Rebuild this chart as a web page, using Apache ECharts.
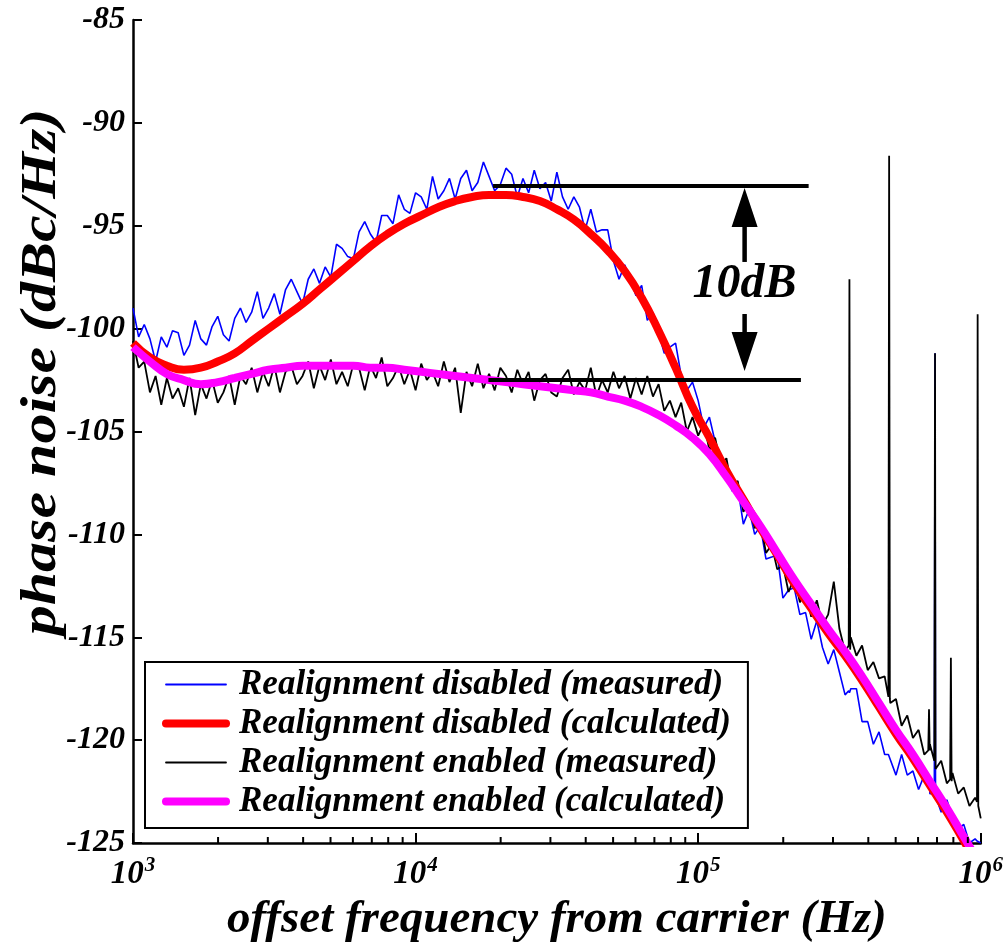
<!DOCTYPE html>
<html><head><meta charset="utf-8">
<script src="https://cdn.jsdelivr.net/npm/echarts@6/dist/echarts.min.js"></script>
<style>html,body{margin:0;padding:0;background:#fff}#c{width:1006px;height:952px}</style>
</head><body><div id="c"></div>
<script>
// ---- measured traces (offset frequency in Hz, phase noise in dBc/Hz) ----
const measFreq = [
  1000,1047,1096,1148,1202,1259,1318,1380,1445,1514,
  1585,1660,1738,1820,1905,1995,2089,2188,2291,2399,
  2512,2630,2754,2884,3020,3162,3311,3467,3631,3802,
  3981,4169,4365,4571,4786,5012,5248,5495,5754,6026,
  6310,6607,6918,7244,7586,7943,8318,8710,9120,9550,
  10000,10470,10960,11480,12020,12590,13180,13800,14450,15140,
  15850,16600,17380,18200,19050,19950,20890,21880,22910,23990,
  25120,26300,27540,28840,30200,31620,33110,34670,36310,38020,
  39810,41690,43650,45710,47860,50120,52480,54950,57540,60260,
  63100,66070,69180,72440,75860,79430,83180,87100,91200,95500,
  100000,104700,109600,114800,120200,125900,131800,138000,144500,151400,
  158500,166000,173800,182000,190500,199500,208900,218800,229100,239900,
  251200,263000,275400,288400,302000,316200,331100,
  341000,343000,345000,346700,363100,380200,398100,416900,436500,457100,
  471200,474000,476800,478600,501200,524800,549500,575400,602600,631000,
  652100,656000,659900,660700,685000,689000,691800,724400,758600,
  779300,784000,788700,794300,831800,871000,912000,955000,970000,975000,980000,1000000
];
const disabledMeasured = [
  -99.0,-100.4,-99.8,-100.5,-101.6,-100.4,-100.9,-100.1,-100.2,-101.3,
  -100.8,-99.6,-100.5,-100.8,-99.9,-99.4,-100.3,-100.6,-99.5,-99.0,
  -99.7,-99.2,-98.2,-99.5,-99.0,-98.3,-99.3,-98.1,-97.6,-98.2,
  -98.8,-97.6,-97.1,-97.8,-97.0,-97.5,-95.9,-96.1,-96.5,-96.6,
  -95.3,-94.8,-95.4,-95.8,-94.5,-94.5,-94.9,-93.5,-94.2,-94.4,
  -93.4,-93.6,-94.2,-92.6,-93.7,-93.3,-92.7,-93.7,-92.7,-92.3,
  -93.3,-92.9,-91.9,-92.6,-93.3,-93.0,-92.2,-92.5,-93.6,-92.7,
  -93.4,-92.3,-93.2,-92.9,-93.8,-92.4,-93.6,-94.2,-93.6,-94.1,
  -95.2,-94.2,-95.3,-95.2,-95.2,-96.7,-97.6,-96.9,-97.6,-98.4,
  -97.9,-99.6,-99.2,-100.2,-101.2,-100.9,-100.7,-102.3,-103.0,-102.6,
  -103.5,-104.8,-104.3,-105.5,-107.0,-106.5,-107.9,-107.7,-109.5,-108.8,
  -110.0,-109.6,-111.2,-111.1,-111.0,-113.1,-112.7,-112.6,-113.9,-113.8,
  -115.1,-114.2,-115.5,-116.3,-115.6,-116.7,-117.8,
  -117.6,-117.7,-117.6,-117.5,-117.5,-119.1,-119.1,-120.2,-119.6,-120.7,
  -120.7,-120.7,-120.7,-120.7,-121.7,-120.7,-121.7,-121.5,-122.4,-121.7,
  -122.0,-122.1,-122.2,-122.6,-122.6,-101.2,-122.7,-123.5,-122.9,
  -123.4,-123.5,-123.6,-124.0,-124.3,-124.1,-125.0,-124.8,-124.9,-124.9,-124.9,-125.0
];
const enabledMeasured = [
  -100.6,-101.9,-101.6,-103.1,-102.3,-103.7,-102.4,-103.4,-102.9,-103.8,
  -102.4,-104.2,-102.7,-103.4,-102.5,-103.6,-103.1,-102.3,-103.7,-102.3,
  -102.7,-101.9,-103.1,-102.1,-102.8,-101.8,-103.1,-102.1,-101.8,-102.7,
  -102.3,-101.6,-102.9,-101.8,-102.5,-101.5,-102.7,-102.1,-102.8,-101.7,
  -101.9,-103.0,-101.8,-102.4,-101.4,-102.8,-102.4,-101.8,-102.7,-102.0,
  -103.0,-101.7,-102.5,-102.1,-102.8,-101.6,-102.6,-101.9,-104.1,-102.1,
  -102.8,-101.7,-102.9,-102.2,-103.0,-101.9,-102.3,-103.1,-102.0,-102.7,
  -102.1,-103.5,-102.5,-102.2,-103.1,-103.3,-102.4,-102.0,-103.2,-102.6,
  -103.0,-101.9,-103.3,-102.5,-103.1,-102.1,-102.9,-102.3,-103.4,-102.4,
  -103.2,-102.3,-103.3,-102.7,-104.0,-103.5,-104.3,-103.6,-105.0,-104.3,
  -105.2,-104.6,-105.9,-105.3,-106.6,-106.3,-107.8,-107.4,-108.9,-108.5,
  -109.7,-109.4,-110.9,-110.5,-111.7,-111.5,-112.8,-112.1,-113.3,-112.8,
  -114.0,-113.2,-114.4,-113.9,-112.3,-114.6,-115.7,
  -115.4,-97.6,-115.6,-115.0,-115.9,-115.4,-116.6,-116.2,-117.0,-116.9,
  -117.9,-91.6,-118.0,-118.2,-118.0,-119.3,-118.8,-119.9,-119.5,-120.7,
  -120.5,-118.5,-120.5,-120.2,-121.0,-101.2,-121.4,-121.0,-122.1,
  -121.9,-116.0,-122.0,-121.6,-122.6,-122.3,-123.2,-122.8,-123.0,-99.3,-123.2,-123.8
];

// ---- calculated curves ----
const calcFreq = [1000,1148,1318,1514,1738,1995,2291,2630,3020,3467,3981,4571,5248,6026,6918,7943,9120,
  10470,12020,13800,15850,18200,20890,23990,27540,31620,36310,41690,47860,54950,63100,72440,83180,95500,
  109600,125900,144500,166000,190500,218800,251200,288400,331100,380200,436500,501200,575400,660700,758600,871000,1000000];
const disabledCalc = [-100.7,-101.4,-101.8,-102.0,-101.9,-101.6,-101.2,-100.6,-100.0,-99.4,-98.8,-98.1,-97.4,-96.7,-96.0,-95.4,-94.9,
  -94.5,-94.1,-93.8,-93.6,-93.5,-93.5,-93.6,-93.8,-94.2,-94.7,-95.4,-96.2,-97.2,-98.5,-100.1,-101.9,-103.8,
  -105.3,-106.9,-108.3,-109.7,-111.0,-112.4,-113.6,-114.8,-115.9,-117.1,-118.4,-119.7,-120.9,-122.2,-123.5,-124.9,-126.3];
const enabledCalc = [-100.9,-101.6,-102.2,-102.5,-102.7,-102.6,-102.4,-102.2,-102.0,-101.9,-101.8,-101.8,-101.8,-101.8,-101.9,-101.9,-102.0,
  -102.1,-102.2,-102.3,-102.4,-102.5,-102.6,-102.7,-102.8,-102.9,-103.0,-103.1,-103.3,-103.5,-103.8,-104.2,-104.7,-105.3,
  -106.1,-107.2,-108.4,-109.6,-110.9,-112.2,-113.4,-114.6,-115.7,-116.9,-118.2,-119.5,-120.7,-122.0,-123.3,-124.7,-126.1];

// ---- axes / annotation values ----
const xMinorTicks = [2000,3000,4000,5000,6000,7000,8000,9000,20000,30000,40000,50000,60000,70000,80000,90000,
  200000,300000,400000,500000,600000,700000,800000,900000];
const seriesNames = ['Realignment disabled (measured)','Realignment disabled (calculated)',
  'Realignment enabled (measured)','Realignment enabled (calculated)'];
const refLines = [[18800,246000,-93.07],[18100,231000,-102.5]]; // [from Hz, to Hz, level dB]
const arrowFreq = 146000;
const arrowUp = [-96.76,-93.17];     // [shaft start, tip]
const arrowDown = [-99.29,-102.06];  // [shaft start, tip]
const deltaLabel = ['10dB', -97.85];
const yTitle = 'phase noise (dBc/Hz)';
const xTitle = 'offset frequency from carrier (Hz)';

const FONT = '"Liberation Serif","Times New Roman",serif';
const pair = (xs, ys) => xs.map((x, i) => [x, ys[i]]);

const chart = echarts.init(document.getElementById('c'), null, {renderer: 'canvas'});

function renderAnnot(params, api) {
  const ch = [];
  refLines.forEach(r => {
    const a = api.coord([r[0], r[2]]), b = api.coord([r[1], r[2]]);
    ch.push({type: 'line', shape: {x1: a[0], y1: a[1], x2: b[0], y2: b[1]}, style: {stroke: '#000', lineWidth: 4}});
  });
  const arrow = (seg) => {
    const p0 = api.coord([arrowFreq, seg[0]]), p1 = api.coord([arrowFreq, seg[1]]);
    const dir = Math.sign(p1[1] - p0[1]);
    const headLen = 39, headW = 13;
    const base = p1[1] - dir * headLen;
    ch.push({type: 'line', shape: {x1: p0[0], y1: p0[1], x2: p0[0], y2: base + dir * 2}, style: {stroke: '#000', lineWidth: 4.5}});
    ch.push({type: 'polygon', shape: {points: [[p1[0], p1[1]], [p1[0] - headW, base], [p1[0] + headW, base]]}, style: {fill: '#000'}});
  };
  arrow(arrowUp);
  arrow(arrowDown);
  const t = api.coord([arrowFreq, deltaLabel[1]]);
  ch.push({type: 'text', x: t[0], y: t[1], style: {text: deltaLabel[0], fill: '#000', align: 'center', verticalAlign: 'middle',
    font: 'italic bold 48px ' + FONT}});
  return {type: 'group', children: ch};
}

function renderMinor(params, api) {
  const p = api.coord([api.value(0), api.value(1)]);
  return {type: 'line', shape: {x1: p[0], y1: p[1], x2: p[0], y2: p[1] - 6}, style: {stroke: '#000', lineWidth: 2}};
}

const legendWidths = [1.8, 8, 1.8, 8];

const option = {
  animation: false,
  backgroundColor: '#fff',
  grid: {left: 133, top: 20, right: 21, bottom: 109, containLabel: false},
  xAxis: {
    type: 'log', logBase: 10, min: 1000, max: 1000000,
    name: xTitle, nameLocation: 'middle', nameGap: 51,
    nameTextStyle: {fontFamily: FONT, fontStyle: 'italic', fontWeight: 'bold', fontSize: 47, color: '#000'},
    axisLine: {show: true, onZero: false, lineStyle: {color: '#000', width: 2.5}},
    axisTick: {show: true, inside: true, length: 10, lineStyle: {color: '#000', width: 2}},
    splitLine: {show: false},
    axisLabel: {
      margin: 12, color: '#000',
      formatter: v => '{b|10}{e|' + Math.round(Math.log10(v)) + '}',
      rich: {
        b: {fontFamily: FONT, fontStyle: 'italic', fontWeight: 'bold', fontSize: 33, color: '#000', lineHeight: 36, verticalAlign: 'bottom'},
        e: {fontFamily: FONT, fontStyle: 'italic', fontWeight: 'bold', fontSize: 21, color: '#000', lineHeight: 36, verticalAlign: 'top', padding: [0, 0, 0, 1]}
      }
    }
  },
  yAxis: {
    type: 'value', min: -125, max: -85, interval: 5,
    axisLine: {show: true, onZero: false, lineStyle: {color: '#000', width: 2.5}},
    axisTick: {show: true, inside: true, length: 9, lineStyle: {color: '#000', width: 2}},
    splitLine: {show: false},
    axisLabel: {margin: 8, color: '#000', fontFamily: FONT, fontStyle: 'italic', fontWeight: 'bold', fontSize: 32}
  },
  legend: {
    data: seriesNames.map((n, i) => ({name: n, lineStyle: {width: legendWidths[i], cap: 'round'}})),
    orient: 'vertical', left: 145, top: 662,
    itemWidth: 60, itemHeight: 20, itemGap: 2,
    padding: [4, 17, 8, 17],
    borderColor: '#000', borderWidth: 2, backgroundColor: '#fff',
    itemStyle: {opacity: 0},
    textStyle: {fontFamily: FONT, fontStyle: 'italic', fontWeight: 'bold', fontSize: 35, color: '#000', lineHeight: 37, padding: [0, 0, 0, 8]}
  },
  graphic: [{
    type: 'text', x: 42, y: 372, rotation: Math.PI / 2, scaleX: 1.2, scaleY: 1,
    style: {text: yTitle, fill: '#000', font: 'italic bold 50px ' + FONT, align: 'center', verticalAlign: 'middle'}
  }],
  series: [
    {name: seriesNames[0], type: 'line', data: pair(measFreq, disabledMeasured), symbol: 'none',
      lineStyle: {color: '#0000ff', width: 1.6}, itemStyle: {color: '#0000ff'}, z: 2},
    {name: seriesNames[2], type: 'line', data: pair(measFreq, enabledMeasured), symbol: 'none',
      lineStyle: {color: '#000000', width: 1.8}, itemStyle: {color: '#000000'}, z: 3},
    {name: seriesNames[1], type: 'line', data: pair(calcFreq, disabledCalc), symbol: 'none', smooth: 0.5,
      lineStyle: {color: '#ff0000', width: 8}, itemStyle: {color: '#ff0000'}, z: 4},
    {name: seriesNames[3], type: 'line', data: pair(calcFreq, enabledCalc), symbol: 'none', smooth: 0.5,
      lineStyle: {color: '#ff00ff', width: 8}, itemStyle: {color: '#ff00ff'}, z: 5},
    {type: 'custom', name: 'minorTicks', data: xMinorTicks.map(f => [f, -125]), renderItem: renderMinor, clip: false, silent: true, z: 6},
    {type: 'custom', name: 'annotation', data: [[arrowFreq, deltaLabel[1]]], renderItem: renderAnnot, clip: false, silent: true, z: 7}
  ]
};
chart.setOption(option);
</script>
</body></html>
